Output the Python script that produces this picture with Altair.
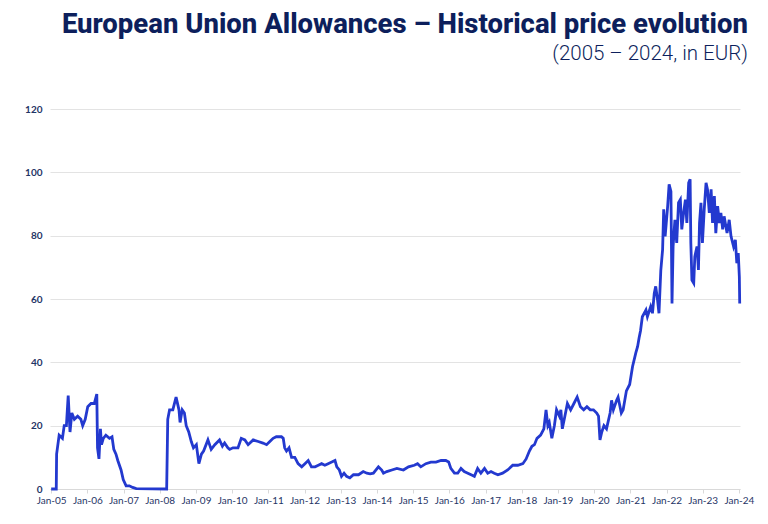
import altair as alt
import pandas as pd

# fractional years and EUA prices (EUR)
years = [
    2005.00, 2005.14, 2005.15, 2005.22, 2005.31, 2005.36, 2005.42, 2005.47, 2005.52, 2005.57,
    2005.64, 2005.73, 2005.82, 2005.87, 2005.94, 2006.01, 2006.10, 2006.19, 2006.26, 2006.28,
    2006.32, 2006.36, 2006.39, 2006.44, 2006.51, 2006.61, 2006.68, 2006.73, 2006.79, 2006.84,
    2006.93, 2006.99, 2007.07, 2007.16, 2007.25, 2007.35, 2008.19, 2008.22, 2008.27, 2008.36,
    2008.45, 2008.53, 2008.56, 2008.62, 2008.68, 2008.73, 2008.80, 2008.87, 2008.93, 2009.01,
    2009.08, 2009.15, 2009.21, 2009.33, 2009.42, 2009.52, 2009.65, 2009.73, 2009.79, 2009.88,
    2009.93, 2010.02, 2010.16, 2010.25, 2010.35, 2010.44, 2010.58, 2010.72, 2010.85, 2010.95,
    2011.04, 2011.13, 2011.22, 2011.36, 2011.41, 2011.45, 2011.50, 2011.57, 2011.64, 2011.73,
    2011.82, 2011.92, 2012.01, 2012.10, 2012.19, 2012.29, 2012.38, 2012.47, 2012.56, 2012.65,
    2012.75, 2012.84, 2012.89, 2012.96, 2013.02, 2013.09, 2013.16, 2013.25, 2013.35, 2013.49,
    2013.62, 2013.72, 2013.81, 2013.90, 2014.04, 2014.13, 2014.18, 2014.27, 2014.41, 2014.55,
    2014.73, 2014.87, 2015.03, 2015.12, 2015.21, 2015.35, 2015.49, 2015.63, 2015.77, 2015.90,
    2015.98, 2016.04, 2016.14, 2016.23, 2016.32, 2016.41, 2016.51, 2016.60, 2016.69, 2016.78,
    2016.87, 2016.97, 2017.06, 2017.15, 2017.24, 2017.34, 2017.47, 2017.61, 2017.75, 2017.89,
    2018.03, 2018.12, 2018.21, 2018.28, 2018.35, 2018.42, 2018.52, 2018.61, 2018.67, 2018.72,
    2018.76, 2018.83, 2018.90, 2018.96, 2019.04, 2019.08, 2019.12, 2019.19, 2019.26, 2019.35,
    2019.44, 2019.53, 2019.62, 2019.71, 2019.80, 2019.89, 2019.98, 2020.07, 2020.12, 2020.16,
    2020.21, 2020.27, 2020.34, 2020.44, 2020.48, 2020.53, 2020.62, 2020.66, 2020.75, 2020.80,
    2020.89, 2020.98, 2021.06, 2021.15, 2021.20, 2021.24, 2021.28, 2021.33, 2021.43, 2021.47,
    2021.56, 2021.61, 2021.66, 2021.70, 2021.75, 2021.79, 2021.84, 2021.89, 2021.92, 2021.96,
    2022.03, 2022.07, 2022.12, 2022.15, 2022.18, 2022.23, 2022.28, 2022.33, 2022.38, 2022.42,
    2022.47, 2022.52, 2022.56, 2022.61, 2022.65, 2022.67, 2022.70, 2022.75, 2022.78, 2022.84,
    2022.88, 2022.91, 2022.95, 2022.99, 2023.04, 2023.09, 2023.13, 2023.18, 2023.23, 2023.27,
    2023.32, 2023.36, 2023.41, 2023.46, 2023.50, 2023.55, 2023.59, 2023.67, 2023.73, 2023.78,
    2023.85, 2023.90, 2023.94, 2023.98, 2024.01, 2024.02,
]
prices = [
    0, 0, 11, 17, 16, 20, 20, 29.5, 18, 24,
    22, 23, 22, 20, 22, 26, 27, 27, 30, 13,
    9.5, 19, 14, 16, 17, 16, 16.5, 12.5, 11, 9,
    6, 3, 1, 1, 0.5, 0.1, 0, 22, 25, 25,
    29, 25, 21, 25, 24, 20, 18, 15, 13, 14,
    8, 11, 12, 15.5, 12.5, 14, 15.5, 13.5, 14.5, 13,
    12.5, 13, 13, 16, 15.5, 14, 15.5, 15, 14.5, 14,
    15, 16, 16.5, 16.5, 16, 13, 12, 13, 10, 10,
    8, 7, 8, 9, 7, 7, 7.5, 8, 7.5, 8,
    8.5, 9, 7, 6, 4, 5, 4, 3.5, 4.5, 4.5,
    5.5, 5, 4.8, 5, 7, 6, 5, 5.5, 6, 6.5,
    6, 7, 7.5, 8, 7, 8, 8.5, 8.5, 9, 9,
    8.5, 6.5, 5, 5, 6.5, 5.5, 5, 4.5, 4, 6.5,
    5, 6.5, 5, 5.5, 5, 4.5, 5, 6, 7.5, 7.5,
    8, 9.5, 12, 13.5, 14, 16, 17, 19, 25, 20,
    21, 16, 20, 25, 23, 25, 19, 23, 27, 25,
    27, 29, 26, 25, 26, 25, 25, 24, 23, 15.5,
    18, 20, 19, 24, 28, 25, 28, 29, 24, 25,
    31, 33, 38.7, 43, 45, 47.7, 50, 54.4, 56.5, 54.4,
    57.6, 55.5, 61.8, 64, 59.7, 55.5, 69, 75.6, 88.3, 79.8,
    89.3, 96.2, 94, 58.6, 76.6, 85, 77.7, 90.4, 91.4, 82,
    87.2, 91.4, 84, 96.7, 97.8, 77.7, 66, 65, 73.4, 76.6,
    69.2, 84, 90.4, 77.7, 88.3, 96.7, 94.6, 87.2, 94.6, 84,
    92.5, 80.8, 89.3, 84, 87.2, 82, 86.1, 80.8, 85, 79.8,
    76.6, 78.7, 71.3, 74.5, 67, 58.6,
]
y_ticks = [0, 20, 40, 60, 80, 100, 120]
x_tick_years = list(range(2005, 2025))

base = pd.Timestamp("2005-01-01")
dates = [base + pd.to_timedelta((y - 2005) * 365.25, unit="D") for y in years]
df = pd.DataFrame({"date": dates, "price": prices})

navy = "#0d1f5c"
label_col = "#1f3566"

chart = (
    alt.Chart(df)
    .mark_line(color="#2339CF", strokeWidth=2.8, interpolate="linear")
    .encode(
        x=alt.X(
            "date:T",
            scale=alt.Scale(domain=[alt.DateTime(year=2004, month=12, date=20),
                                    alt.DateTime(year=2024, month=1, date=12)]),
            axis=alt.Axis(
                title=None,
                format="%b-%y",
                values=[alt.DateTime(year=y, month=1, date=1) for y in x_tick_years],
                grid=False,
                domainColor="#d9d9d9",
                tickColor="#d9d9d9",
                tickSize=4,
                labelFont="Lato",
                labelFontSize=10,
                labelColor=label_col,
                labelPadding=2,
                labelFlush=False,
                labelOverlap=False,
            ),
        ),
        y=alt.Y(
            "price:Q",
            scale=alt.Scale(domain=[0, 120], nice=False),
            axis=alt.Axis(
                title=None,
                values=y_ticks,
                domain=False,
                ticks=False,
                gridColor="#e3e3e3",
                labelFont="Lato",
                labelFontSize=10,
                labelFontWeight="bold",
                labelColor=label_col,
                labelPadding=8,
            ),
        ),
    )
    .properties(
        width=690,
        height=380,
        autosize=alt.AutoSizeParams(type="none"),
        padding={"left": 42, "top": 101, "right": 20, "bottom": 27},
        title=alt.TitleParams(
            text="European Union Allowances – Historical price evolution",
            subtitle="(2005 – 2024, in EUR)",
            anchor="end",
            font="Roboto",
            fontSize=27.5,
            fontWeight=800,
            color=navy,
            subtitleFont="Roboto",
            subtitleFontSize=20.5,
            subtitleFontWeight=300,
            subtitleColor=navy,
            subtitlePadding=5,
            offset=40,
            dx=-6,
        ),
    )
    .configure_view(stroke=None)
)

chart.save("out.html", embed_options={"renderer": "svg", "actions": False})
